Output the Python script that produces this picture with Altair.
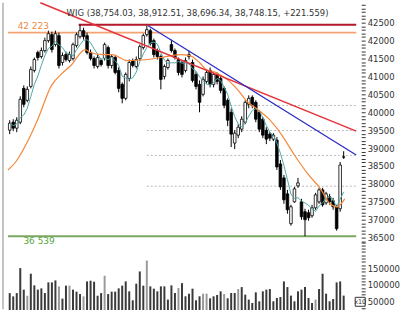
import altair as alt
import pandas as pd

# ---------------- data ----------------
opens = [39500, 39722, 39556, 39722, 40667, 40333, 40722, 41167, 41667, 41556,
         41722, 42000, 42167, 41889, 42139, 41389, 41611, 41444, 41500, 41861,
         42111, 42278, 42139, 41667, 41500, 41278, 41444, 41500, 41806, 41306,
         41528, 41167, 40778, 40389, 40944, 41444, 41278, 41500, 41806, 42167,
         42278, 42000, 41722, 41556, 41000, 41250, 41889, 41722, 41472, 41389,
         41167, 41556, 41389, 41056, 40778, 40500, 40861, 41167, 40778, 41056,
         40944, 40667, 40333, 40000, 39139, 39361, 39528, 39722, 40222, 40417,
         40278, 40000, 39806, 39500, 39389, 39250, 39222, 38556, 38167, 37722,
         36889, 37500, 37944, 37500, 37222, 37194, 37111, 37333, 37500, 37833,
         37472, 37639, 37528, 37361, 37306, 38754.03]
highs = [39778, 39806, 39861, 40444, 40750, 40722, 41278, 41528, 41722, 41806,
         42083, 42278, 42250, 42278, 42222, 41667, 41694, 41694, 41944, 42222,
         42444, 42361, 42222, 41750, 41556, 41611, 41500, 41944, 41861, 41611,
         41583, 41250, 40833, 41111, 41472, 41500, 41556, 41889, 42194, 42417,
         42333, 42056, 41778, 41611, 41333, 41500, 42028, 41778, 41528, 41444,
         41528, 41722, 41472, 41139, 40889, 41000, 41194, 41250, 41111, 41111,
         41000, 40722, 40389, 40111, 39500, 39667, 39889, 40333, 40472, 40472,
         40333, 40056, 39861, 39583, 39444, 39417, 39306, 38667, 38250, 37833,
         37417, 37917, 38167, 37583, 37306, 37278, 37417, 37750, 37889, 37889,
         37778, 37722, 37611, 37417, 38611, 38912.51]
lows = [39389, 39472, 39444, 39667, 40139, 40278, 40667, 41111, 41444, 41500,
        41667, 41944, 41667, 41833, 41222, 41306, 41417, 41389, 41444, 41806,
        42056, 42028, 41611, 41444, 41222, 41222, 41278, 41444, 41222, 41222,
        41056, 40556, 40250, 40333, 40861, 41250, 41222, 41444, 41750, 42111,
        41861, 41528, 41472, 40639, 40917, 41194, 41667, 41472, 41028, 40972,
        41111, 41472, 40833, 40639, 40000, 40444, 40806, 40694, 40694, 40778,
        40528, 40111, 39611, 39028, 38972, 39278, 39444, 39667, 40111, 40111,
        39722, 39444, 39278, 39111, 39194, 39194, 38389, 37833, 37444, 37167,
        36833, 37472, 37889, 37000, 36539, 36972, 37056, 37278, 37444, 37361,
        37417, 37417, 37278, 36694, 37222, 38696.34]
closes = [39694, 39556, 39778, 40361, 40222, 40639, 41194, 41472, 41528, 41722,
          42000, 42194, 41750, 42194, 41306, 41583, 41472, 41611, 41889, 42167,
          42278, 42111, 41667, 41500, 41306, 41528, 41333, 41889, 41306, 41556,
          41111, 40667, 40389, 41056, 41389, 41306, 41472, 41833, 42139, 42306,
          41917, 41611, 41556, 40917, 41278, 41444, 41722, 41528, 41111, 41056,
          41444, 41611, 40889, 40722, 40278, 40917, 41111, 40778, 41056, 40861,
          40611, 40194, 39778, 39389, 39417, 39583, 39806, 40278, 40389, 40194,
          39806, 39528, 39361, 39250, 39278, 39361, 38472, 37917, 37556, 37278,
          37361, 37861, 38028, 37083, 37000, 37056, 37333, 37694, 37833, 37417,
          37722, 37500, 37361, 36750, 38526.59, 38748.15]
volumes = [75000, 65000, 75000, 151000, 85500, 67000, 134000, 98500, 85500, 89400,
           75000, 107600, 107600, 113600, 95500, 58200, 97600, 97600, 85500, 79400,
           72100, 65000, 110600, 112700, 109700, 67000, 75000, 127900, 72100, 79400,
           79400, 89400, 97600, 110600, 80300,
           53000, 103600, 140900, 97600, 174200, 95500, 88500, 80300, 95500, 95500,
           55200, 98500, 75200, 90300, 105400, 65200, 73300, 88500, 53000, 65200,
           73300, 73300, 59100, 65200, 69100, 80300, 72100, 59100, 75200, 75200,
           87300, 93300, 70300, 55200, 44900,
           77300, 50000, 80300, 85500, 87300, 50000, 60000, 63000, 110600, 93300,
           67300, 50000, 80300, 85500, 93300, 60000, 44900, 55200, 87300, 133900,
           73300, 50000, 57000, 107600, 110600, 67300]
light_volume_days = [5, 14, 17, 21, 27, 39, 48, 55, 56, 61, 65, 87]

# slow moving average (orange), read at sample points
slow_ma_idx = [-0.5, 1.7, 5.0, 8.0, 11.9, 14.6, 17.4, 21.5, 22.9, 26.5, 29.2, 33.3,
               39.4, 43.0, 48.5, 51.2, 54.0, 55.9, 58.7, 62.2, 65.0, 67.2, 70.5,
               73.8, 77.4, 81.0, 84.8, 88.4, 91.1, 93.1, 95.3]
slow_ma_val = [38389, 38611, 39167, 39806, 40750, 41056, 41306, 41750, 41667, 41611,
               41611, 41444, 41472, 41528, 41611, 41583, 41389, 41194, 41111, 40889,
               40611, 40333, 40083, 39806, 39361, 38806, 38278, 37861, 37444, 37361,
               37583]

fib_levels = [37935, 38795, 39490, 40190]
support_level = 36539
resist_level = 42223
top_level = 42444

title_text = "WIG (38,754.03, 38,912.51, 38,696.34, 38,748.15, +221.559)"

# ---------------- layout ----------------
X_DOM = [-0.5, 98.57]
P_DOM = [36389, 43056]
V_DOM = [25760, 231800]
W, HP, HV = 360, 240, 68
FONT = "DejaVu Sans"

n = len(closes)
df = pd.DataFrame({"i": list(range(n)), "open": opens, "high": highs,
                   "low": lows, "close": closes, "vol": volumes})
df["shade"] = ["light" if k in light_volume_days else "dark" for k in range(n)]
one = pd.DataFrame({"k": [0]})

xs = alt.Scale(domain=X_DOM, nice=False, zero=False)
ys = alt.Scale(domain=P_DOM, nice=False, zero=False)
vs = alt.Scale(domain=V_DOM, nice=False, zero=False)

price_axis = alt.Axis(orient="right", values=list(range(36400, 43100, 100)),
                      labelExpr="datum.value % 500 === 0 && datum.value <= 42500 ? datum.label : ''",
                      format="d", tickSize=4, tickColor="#333", tickWidth=1,
                      domain=False, grid=False, labelFontSize=8.5, labelFont=FONT,
                      labelColor="#333", labelPadding=2, title=None, labelOverlap=False)
vol_axis = alt.Axis(orient="right", values=list(range(30000, 231000, 10000)),
                    labelExpr="datum.value % 50000 === 0 && datum.value <= 150000 ? datum.label : ''",
                    format="d", tickSize=4, tickColor="#333", tickWidth=1,
                    domain=False, grid=False, labelFontSize=8.5, labelFont=FONT,
                    labelColor="#333", labelPadding=2, title=None, labelOverlap=False)

X = alt.X("i:Q", scale=xs, axis=None)

def PY(field):
    return alt.Y(field, scale=ys, axis=price_axis)

base = alt.Chart(df)

wicks = base.mark_rule(color="black", strokeWidth=1).encode(x=X, y=PY("low:Q"), y2="high:Q")
bodies = base.mark_bar(size=2.6, stroke="black", strokeWidth=0.8).encode(
    x=X, y=PY("open:Q"), y2="close:Q",
    fill=alt.condition("datum.close >= datum.open", alt.value("white"), alt.value("black")))

fast_ma = base.transform_window(
    ma="mean(close)", frame=[-4, 0], sort=[alt.SortField("i")]
).mark_line(color="#4fa6a3", strokeWidth=1).encode(x=X, y=PY("ma:Q"))

slow_df = pd.DataFrame({"i": slow_ma_idx, "ma": slow_ma_val})
slow_ma = alt.Chart(slow_df).mark_line(color="#f5883a", strokeWidth=1.2,
                                       interpolate="monotone").encode(x=X, y=PY("ma:Q"))

fib_df = pd.DataFrame({"i": [39] * len(fib_levels), "i2": [X_DOM[1]] * len(fib_levels),
                       "p": fib_levels})
fib = alt.Chart(fib_df).mark_rule(color="#b8b8b8", strokeWidth=1, strokeDash=[2, 2]).encode(
    x=alt.X("i:Q", scale=xs, axis=None), x2="i2:Q", y=PY("p:Q"))

def hline(level, start, color, width):
    d = pd.DataFrame({"i": [start], "i2": [X_DOM[1]], "p": [level]})
    return alt.Chart(d).mark_rule(color=color, strokeWidth=width).encode(
        x=alt.X("i:Q", scale=xs, axis=None), x2="i2:Q", y=PY("p:Q"))

resist = hline(resist_level, X_DOM[0], "#f4a372", 2)
top = hline(top_level, 19.6, "#b3182b", 2)
support = hline(support_level, X_DOM[0], "#7aa862", 2)

def tline(i1, p1, i2, p2, color, width):
    d = pd.DataFrame({"i": [i1], "i2": [i2], "p": [p1], "p2": [p2]})
    return alt.Chart(d).mark_rule(color=color, strokeWidth=width).encode(
        x=alt.X("i:Q", scale=xs, axis=None), x2="i2:Q", y=PY("p:Q"), y2="p2:Q")

red_trend = tline(8.7, 43056, X_DOM[1], 39472, "#e4333b", 1.5)
blue_trend = tline(39.4, 42417, X_DOM[1], 38806, "#2c2cc4", 1.3)

lab_df = pd.DataFrame({"i": [2.25], "p": [resist_level], "t": ["42 223"]})
lab_res = alt.Chart(lab_df).mark_text(align="left", baseline="middle", dy=-7, fontSize=9,
                                      font=FONT, color="#f08a45").encode(
    x=alt.X("i:Q", scale=xs, axis=None), y=PY("p:Q"), text="t:N")
lab_df2 = pd.DataFrame({"i": [3.9], "p": [support_level], "t": ["36 539"]})
lab_sup = alt.Chart(lab_df2).mark_text(align="left", baseline="middle", dy=4.5, fontSize=9,
                                       font=FONT, color="#5aa83c").encode(
    x=alt.X("i:Q", scale=xs, axis=None), y=PY("p:Q"), text="t:N")

title = alt.Chart(one).mark_text(text=title_text, fontSize=8.5, font=FONT, color="#333",
                                 align="center", baseline="middle").encode(
    x=alt.value(195.5), y=alt.value(10))

left_p = alt.Chart(one).mark_rule(color="#888", strokeWidth=1).encode(
    x=alt.value(0), y=alt.value(0), y2=alt.value(HP))

price = alt.layer(fib, resist, top, support, wicks, bodies, fast_ma, slow_ma,
                  red_trend, blue_trend, lab_res, lab_sup, title, left_p
                  ).properties(width=W, height=HP)

vbars = alt.Chart(df).mark_bar(size=2).encode(
    x=X, y=alt.Y("vol:Q", scale=vs, axis=vol_axis), y2=alt.value(HV),
    color=alt.Color("shade:N", scale=alt.Scale(domain=["dark", "light"],
                                                range=["#3a3a3a", "#9a9a9a"]), legend=None))
left_v = alt.Chart(one).mark_rule(color="#888", strokeWidth=1).encode(
    x=alt.value(0), y=alt.value(0), y2=alt.value(HV))
box = alt.Chart(one).mark_rect(fill="white", stroke="#333", strokeWidth=1).encode(
    x=alt.value(354), x2=alt.value(364), y=alt.value(56), y2=alt.value(65))
box_t = alt.Chart(one).mark_text(text="x10", fontSize=6.5, font=FONT, color="#333",
                                 align="center", baseline="middle").encode(
    x=alt.value(359), y=alt.value(60.5))

volume = alt.layer(vbars, left_v, box, box_t).properties(width=W, height=HV)

chart = alt.vconcat(price, volume, spacing=0, bounds="flush").resolve_scale(
    y="independent").properties(
    padding={"left": 2, "top": 0, "right": 0, "bottom": 2}
).configure_view(stroke=None)

chart.save("out.html", embed_options={"renderer": "svg", "actions": False})
